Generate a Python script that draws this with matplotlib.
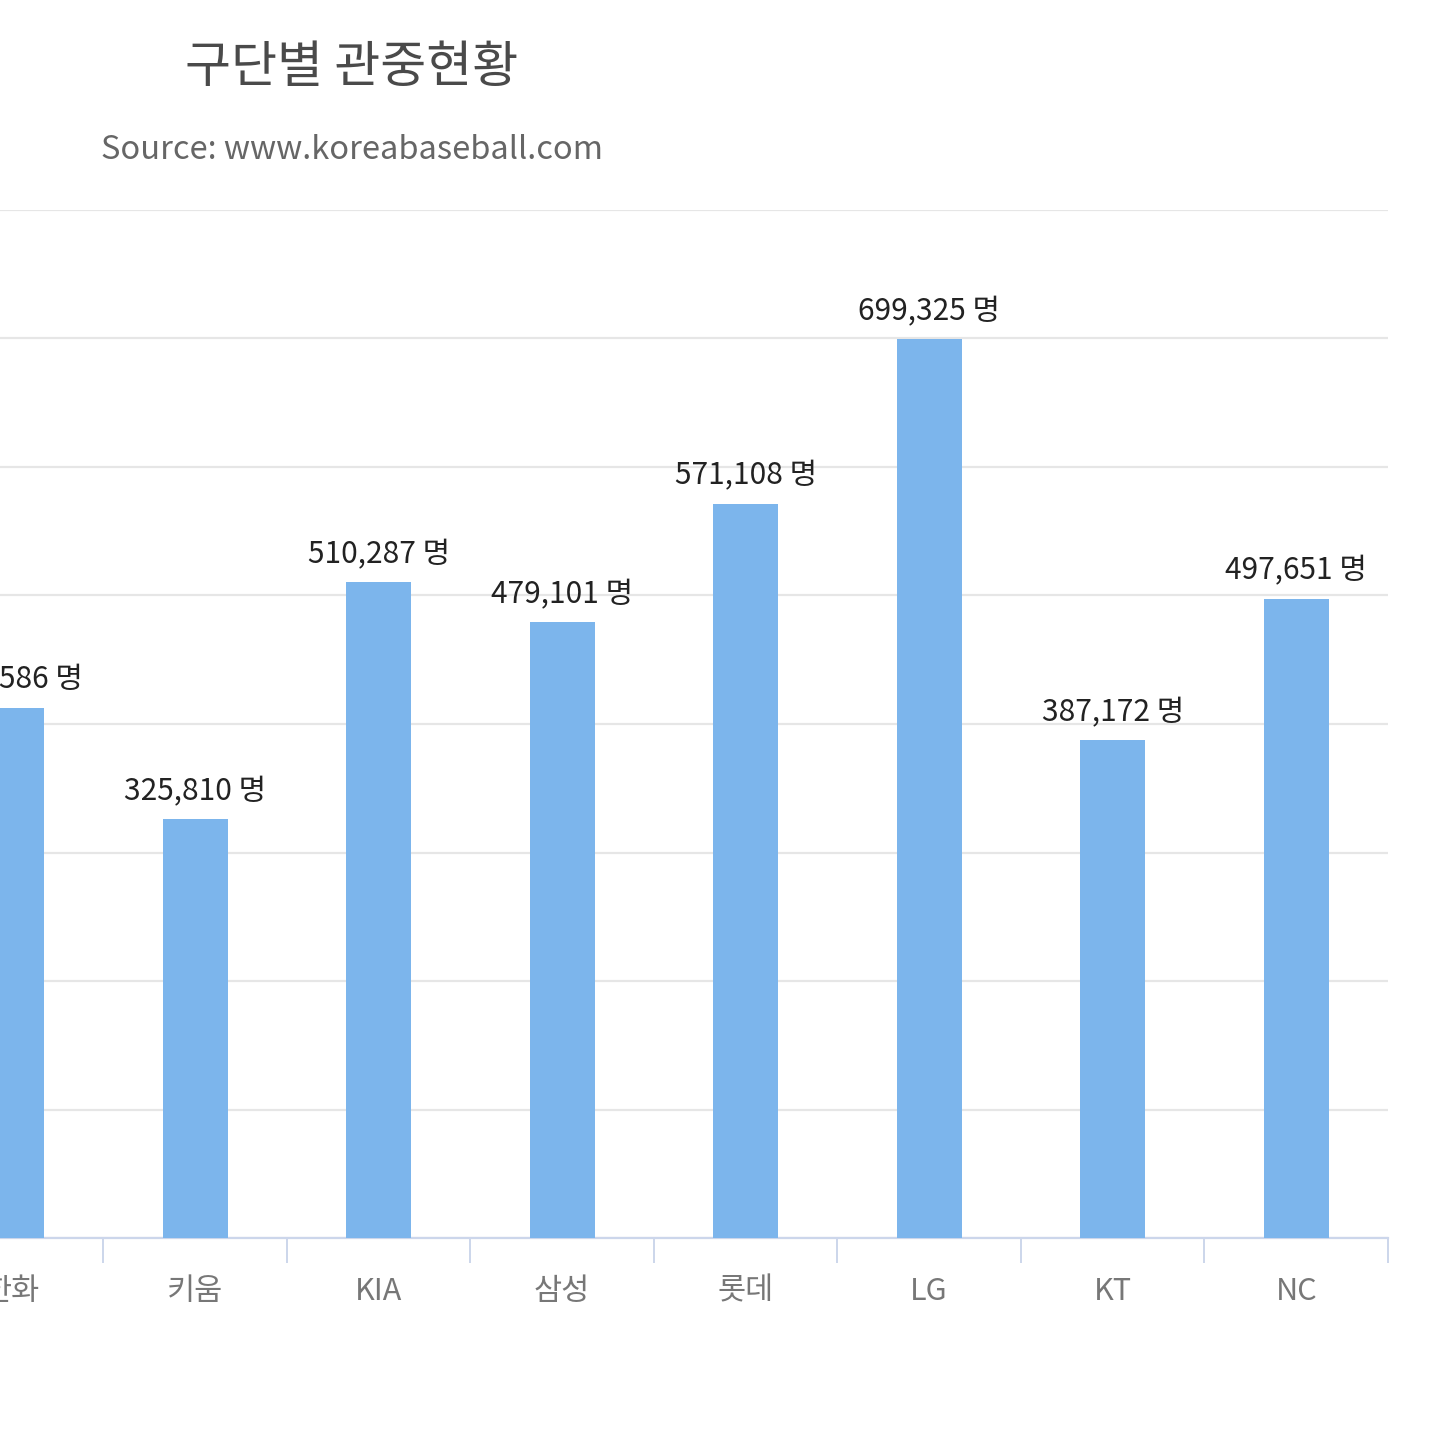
import matplotlib
matplotlib.use("Agg")
import matplotlib.pyplot as plt
from matplotlib.ticker import MultipleLocator

plt.rcParams['font.family'] = ['Noto Sans CJK KR', 'DejaVu Sans']

# 구단별 관중 (왼쪽 한화 막대는 원본에서 잘려 있음)
teams = ["한화", "키움", "KIA", "삼성", "롯데", "LG", "KT", "NC"]
attendance = [412586, 325810, 510287, 479101, 571108, 699325, 387172, 497651]

title = "구단별 관중현황"
subtitle = "Source: www.koreabaseball.com"
unit = "명"

W, H = 1440, 1435
fig = plt.figure(figsize=(W / 100, H / 100), dpi=100)
fig.set_facecolor('white')

ax = fig.add_axes([0, (H - 1238) / H, 1388 / W, (1238 - 210) / H])
x = list(range(len(teams)))
ax.bar(x, attendance, width=0.355, color='#7cb5ec', zorder=3)

for xi, val in zip(x, attendance):
    ax.annotate(f"{val:,} {unit}", (xi, val), xytext=(0, 9), textcoords='offset points',
                ha='center', va='bottom', fontsize=21.5, color='#222222', zorder=4)

ax.set_ylim(0, 800000)
ax.set_xlim(-0.063, 7.5)
ax.yaxis.set_major_locator(MultipleLocator(100000))
ax.grid(axis='y', color='#e6e6e6', linewidth=1.6, zorder=0)
ax.tick_params(axis='y', left=False, labelleft=False)

# 카테고리 경계 눈금
ax.set_xticks([i + 0.5 for i in x])
ax.set_xticks(x, minor=True)
ax.set_xticklabels([])
ax.set_xticklabels(teams, minor=True)
ax.tick_params(axis='x', which='major', length=18, width=1.4, color='#ccd6eb')
ax.tick_params(axis='x', which='minor', length=0, pad=27, labelsize=22, labelcolor='#777777')

for side in ['top', 'right', 'left']:
    ax.spines[side].set_visible(False)
ax.spines['bottom'].set_color('#ccd6eb')
ax.spines['bottom'].set_linewidth(1.6)

fig.text(352 / W, 1 - 68 / H, title, ha='center', va='center', fontsize=36, color='#4a4a4a')
fig.text(352 / W, 1 - 150 / H, subtitle, ha='center', va='center', fontsize=23.5, color='#666666')

fig.savefig("out.png", dpi=100)
